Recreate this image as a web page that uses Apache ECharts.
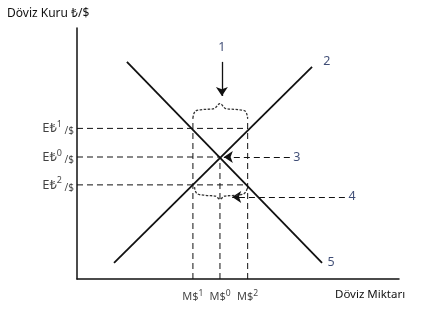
<!DOCTYPE html>
<html><head><meta charset="utf-8">
<script src="https://cdn.jsdelivr.net/npm/echarts@6/dist/echarts.min.js"></script>
<style>html,body{margin:0;padding:0;background:#fff}#c{width:429px;height:311px}</style>
</head><body><div id="c"></div>
<script>
// Quantity levels (x) and exchange rate levels (y), in chart units (0..100)
const msNames = ['1', '0', '2'];
const msValues = [36, 44.4, 53];          // Ms1, Ms0, Ms2
const etNames = ['1', '0', '2'];
const etValues = [60, 48.6, 37.5];        // Et1, Et0, Et2
// Supply (2) and demand (5) curve endpoints
const supplyLine = [[11.5, 6.4], [73, 84.5]];
const demandLine = [[15.5, 86.5], [76.1, 6.4]];
// Curly braces
const upperBrace = [[36,64.1],[36.7,66.8],[39,67.5],[42.6,67.9],[44.4,69.9],[46.2,67.9],[50,67.5],[52.3,66.8],[53,64.1]];
const lowerBrace = [[36.5,36.6],[37.2,34.1],[40,33.3],[43,33],[44.4,31.8],[45.8,33],[49,33.3],[52,34.1],[53,36.6]];
// Arrows [from, to]
const arrow1 = [[45, 86.5], [45, 72.9]];
const arrow3 = [[66.1, 48.6], [45.6, 48.6]];
const arrow4 = [[83.2, 32.7], [48.2, 32.7]];
// Number annotations
const numLabels = ['1', '2', '3', '4', '5'];
const numPos = [[45, 92.4], [77.6, 86.5], [68.3, 48.6], [85.4, 32.7], [78.9, 6.4]];

const FONT = '"Noto Sans", "DejaVu Sans", sans-serif';
const chart = echarts.init(document.getElementById('c'), null, {renderer: 'canvas'});
const dash = {color: '#111', width: 1, type: [6, 4]};
const solid = {color: '#111', width: 1.8};

const series = [];
function seg(data, ls) {
  series.push({type: 'line', data: data, symbol: 'none', silent: true, lineStyle: ls, z: 2});
}
// guide lines
seg([[0, etValues[0]], [msValues[2], etValues[0]]], dash);
seg([[0, etValues[1]], [msValues[1], etValues[1]]], dash);
seg([[0, etValues[2]], [msValues[2], etValues[2]]], dash);
seg([[msValues[0], 0], [msValues[0], upperBrace[0][1]]], dash);
seg([[msValues[2], 0], [msValues[2], upperBrace[0][1]]], dash);
seg([[msValues[1], 0], [msValues[1], etValues[1]]], dash);
// braces
series.push({type: 'line', data: upperBrace, symbol: 'none', smooth: 0.35, silent: true,
  lineStyle: {color: '#333', width: 1.3, type: [2.5, 1.5]}});
series.push({type: 'line', data: lowerBrace, symbol: 'none', smooth: 0.35, silent: true,
  lineStyle: {color: '#333', width: 1.3, type: [2.5, 1.5]}});
// curves
seg(supplyLine, solid);
seg(demandLine, solid);
// arrows
series.push({type: 'lines', coordinateSystem: 'cartesian2d', silent: true, z: 3,
  symbol: ['none', 'arrow'], symbolSize: 9,
  itemStyle: {color: '#111', opacity: 1},
  data: [
    {coords: arrow1, lineStyle: {color: '#111', width: 1.3, type: 'solid', opacity: 1}},
    {coords: arrow3, lineStyle: {color: '#111', width: 1, type: [6, 4], opacity: 1}},
    {coords: arrow4, lineStyle: {color: '#111', width: 1, type: [6, 4], opacity: 1}}
  ]});
// y tick labels
series.push({type: 'scatter', symbolSize: 0, silent: true,
  data: etValues.map((v, i) => ({value: [0, v], name: etNames[i]})),
  label: {show: true, position: 'left', distance: 3,
    formatter: p => '{a|E₺}{s|' + p.name + '}{b| /$}',
    rich: {
      a: {fontSize: 13, fontFamily: FONT, color: '#111'},
      s: {fontSize: 9, fontFamily: FONT, color: '#111', padding: [0, 0, 8, 0]},
      b: {fontSize: 10, fontFamily: FONT, color: '#111', padding: [6, 0, 0, 0]}
    }}});
// x tick labels
series.push({type: 'scatter', symbolSize: 0, silent: true,
  data: msValues.map((v, i) => ({value: [v, 0], name: msNames[i]})),
  label: {show: true, position: 'bottom', distance: 10,
    formatter: p => '{a|M$}{s|' + p.name + '}',
    rich: {
      a: {fontSize: 11, fontFamily: FONT, color: '#111'},
      s: {fontSize: 8.5, fontFamily: FONT, color: '#111', padding: [0, 0, 7, 0]}
    }}});
// number annotations
series.push({type: 'scatter', symbolSize: 0, silent: true,
  data: numPos.map((p, i) => ({value: p, name: numLabels[i]})),
  label: {show: true, position: 'inside', formatter: p => p.name,
    fontSize: 12.5, fontFamily: FONT, color: '#0e1f52'}});

chart.setOption({
  animation: false,
  backgroundColor: '#fff',
  grid: {left: 77, right: 30, top: 28, bottom: 32},
  xAxis: {type: 'value', min: 0, max: 100, splitLine: {show: false},
    axisLine: {show: true, onZero: false, lineStyle: {color: '#111', width: 1.5}},
    axisTick: {show: false}, axisLabel: {show: false}},
  yAxis: {type: 'value', min: 0, max: 100, splitLine: {show: false},
    axisLine: {show: true, onZero: false, lineStyle: {color: '#111', width: 1.5}},
    axisTick: {show: false}, axisLabel: {show: false}},
  graphic: [
    {type: 'text', left: 7, top: 8, style: {text: 'Döviz Kuru ₺/$', font: '12px ' + FONT, fill: '#111'}},
    {type: 'text', left: 335, top: 289, style: {text: 'Döviz Miktarı', font: '11.5px ' + FONT, fill: '#111'}}
  ],
  series: series
});
</script></body></html>
